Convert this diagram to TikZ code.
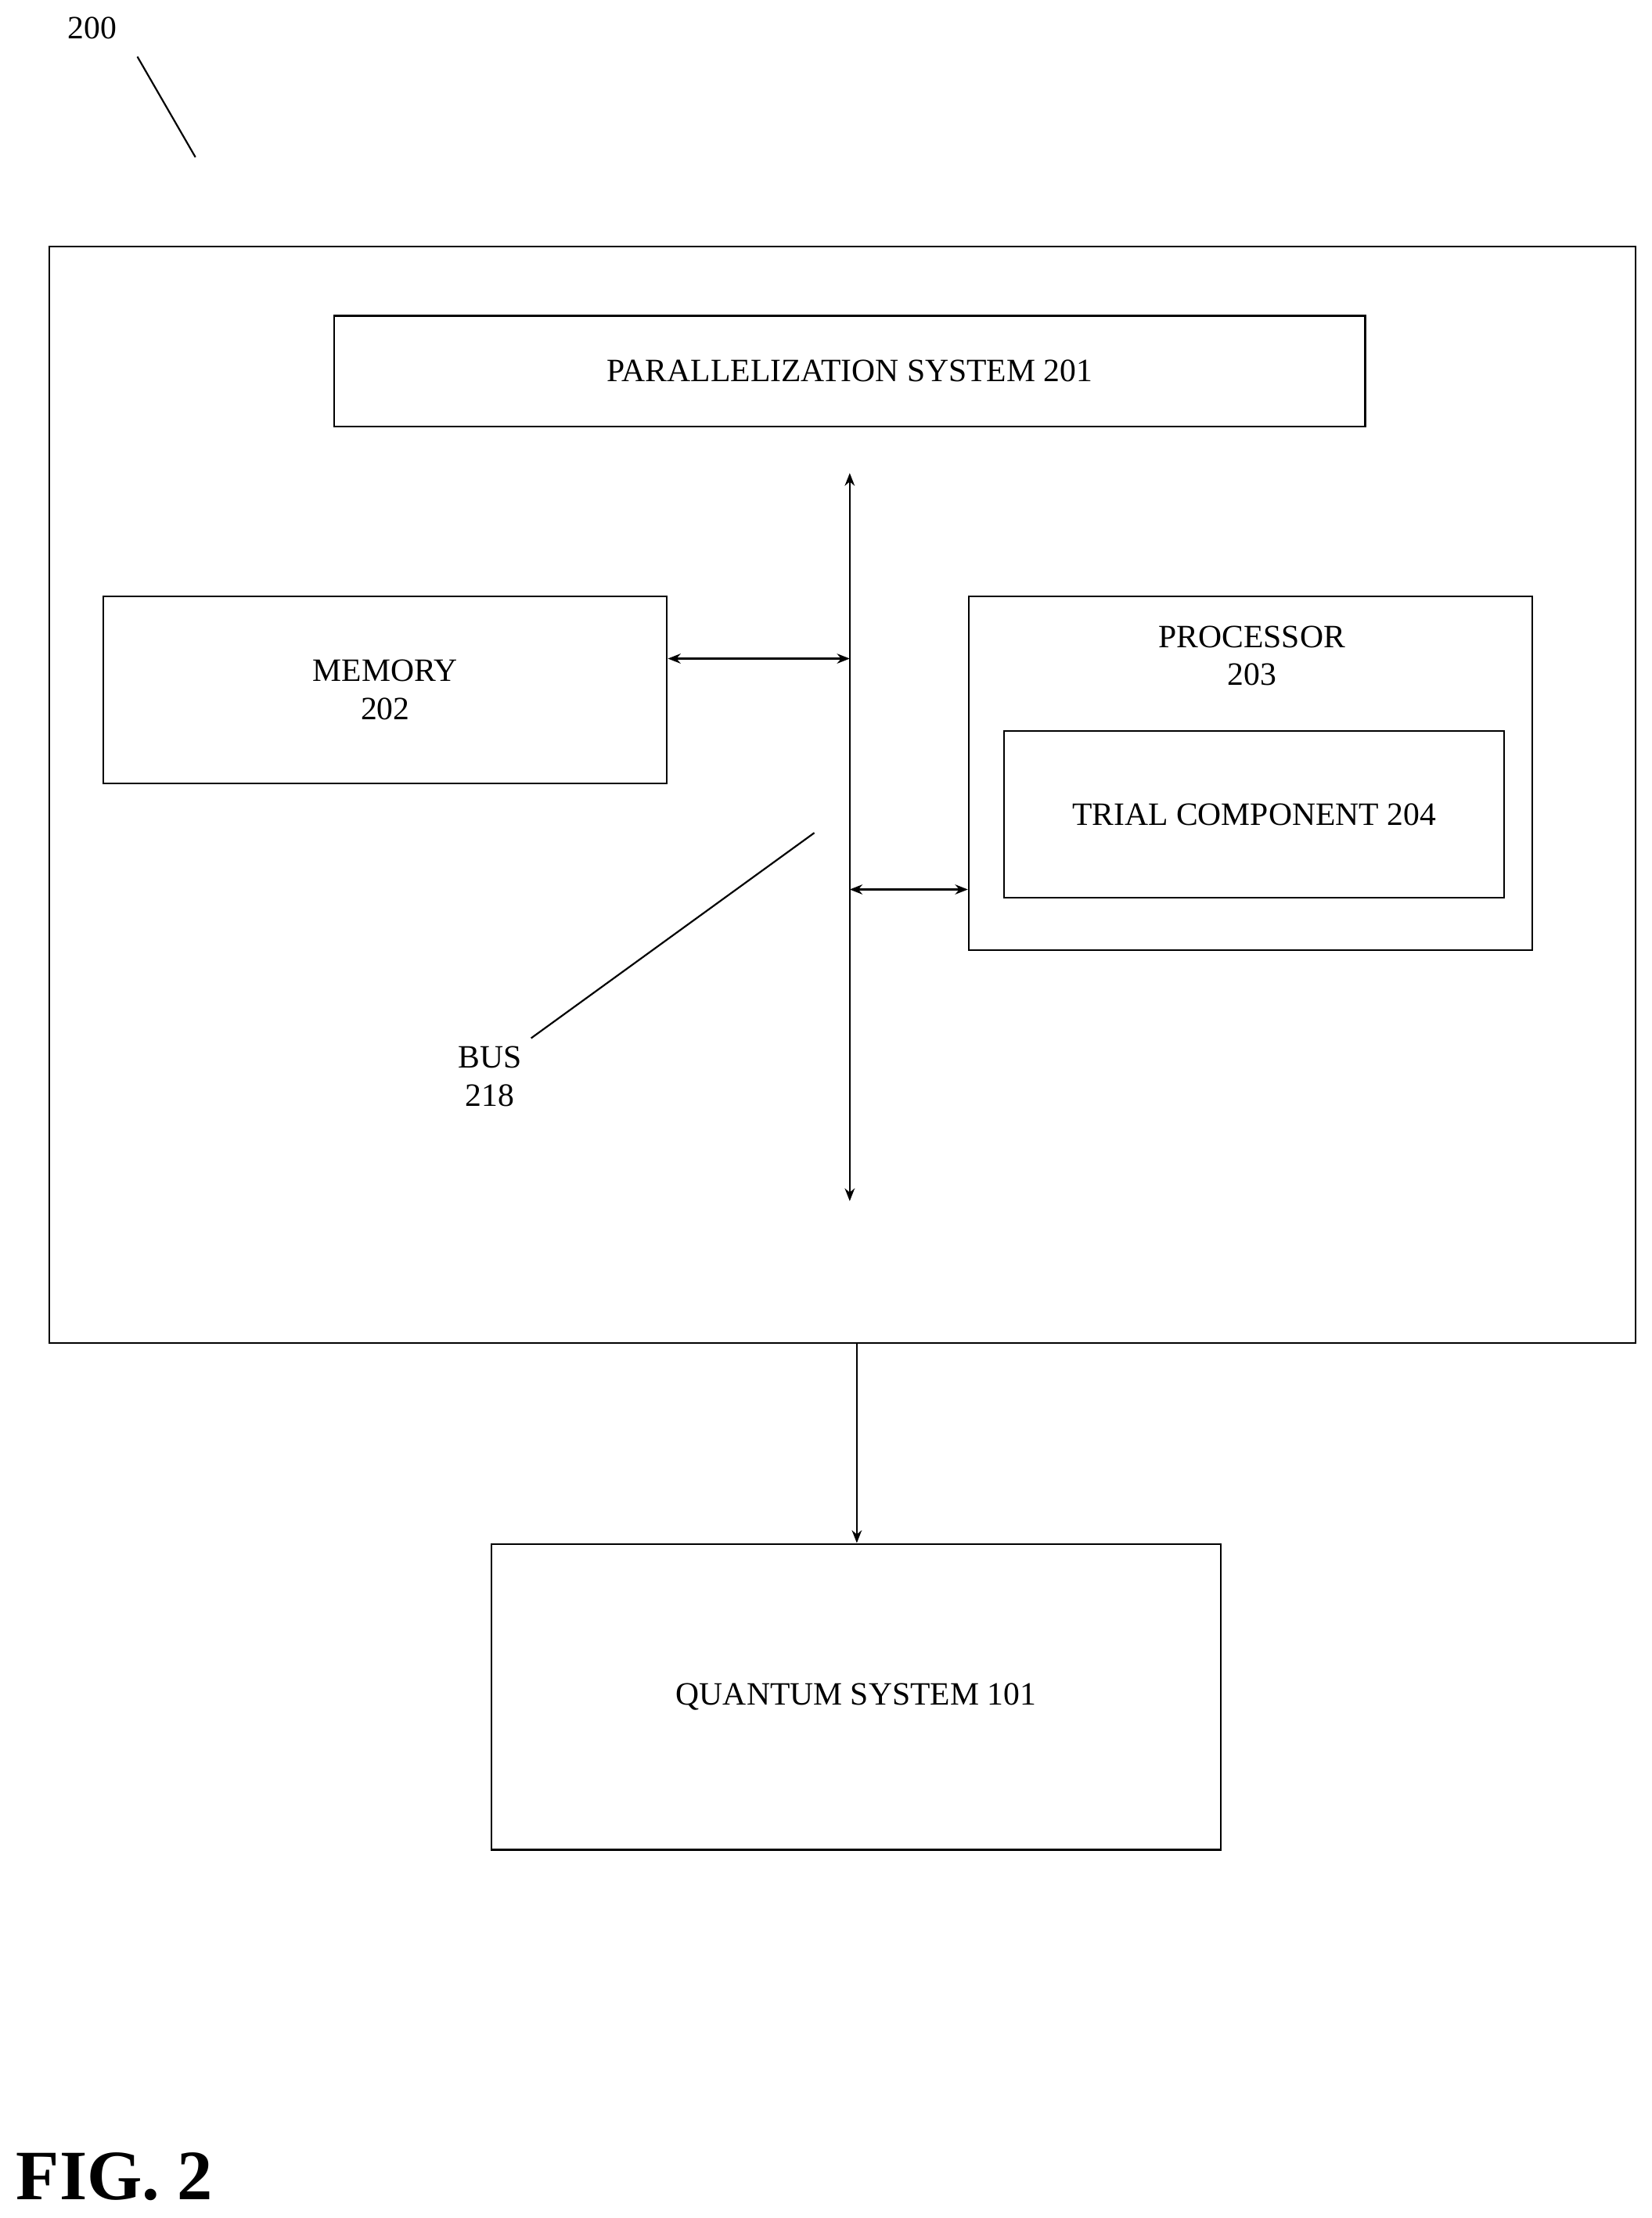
\documentclass[tikz,border=0pt]{standalone}
\usepackage{fontspec}
\setmainfont{Liberation Serif}
\usetikzlibrary{arrows.meta}
\begin{document}
\begin{tikzpicture}[x=1pt,y=-1pt,
  box/.style={draw,line width=1.2pt},
  lbl/.style={font=\fontsize{23}{27}\selectfont,align=center},
  arr/.style={line width=1.2pt,{Stealth[length=9pt,width=7pt]}-{Stealth[length=9pt,width=7pt]}},
  ln/.style={line width=1.2pt}]
\useasboundingbox (0,0) rectangle (1166,1566);
\node[lbl] (n200) at (65,20) {200};
\coordinate (r1) at (97,40); \coordinate (r2) at (138,111);
\draw[ln] (r1) -- (r2);
\node[box,minimum width=1120,minimum height=774] (outer) at (595,561) {};
\node[box,lbl,minimum width=728,minimum height=78] (par) at (600,262) {PARALLELIZATION SYSTEM 201};
\coordinate (bt) at (600,334); \coordinate (bb) at (600,848);
\draw[arr] (bt) -- (bb);
\node[box,lbl,minimum width=398,minimum height=132] (mem) at (272,487) {MEMORY\\202};
\coordinate (bm) at (600,465);
\draw[arr] (mem.east |- bm) -- (bm);
\node[box,minimum width=398,minimum height=250] (proc) at (883,546) {};
\node[lbl] (proct) at (884,463) {PROCESSOR\\203};
\node[box,lbl,minimum width=353,minimum height=118] (trial) at (885.5,575) {TRIAL COMPONENT 204};
\coordinate (bp) at (600,628);
\draw[arr] (bp) -- (proc.west |- bp);
\coordinate (l1) at (575,588); \coordinate (l2) at (375,733);
\draw[ln] (l1) -- (l2);
\node[lbl] (bus) at (346,760) {BUS\\218};
\node[box,lbl,minimum width=515,minimum height=216] (qs) at (604.5,1198) {QUANTUM SYSTEM 101};
\coordinate (q0) at (605,948);
\draw[ln,-{Stealth[length=9pt,width=7pt]}] (q0) -- (qs.north -| q0);
\node[font=\fontsize{50}{56}\selectfont\bfseries,anchor=west] (fig) at (8,1537) {FIG. 2};
\end{tikzpicture}
\end{document}
